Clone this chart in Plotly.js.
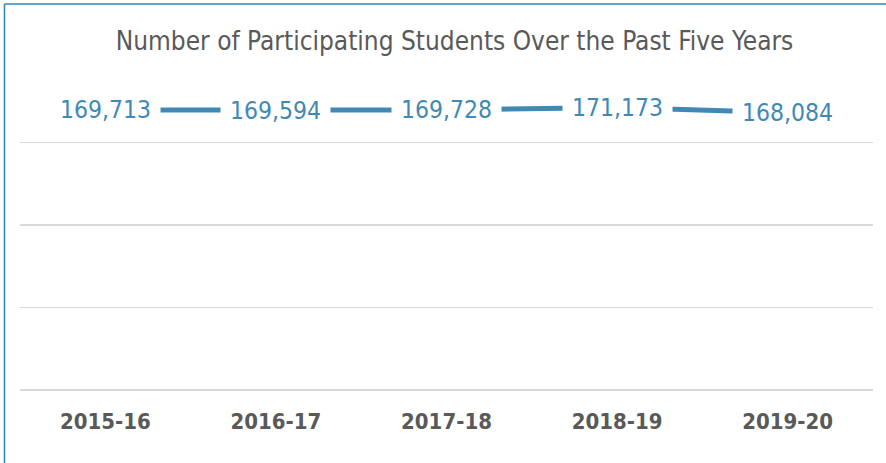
<!DOCTYPE html>
<html>
<head>
<meta charset="utf-8">
<script src="https://cdn.plot.ly/plotly-3.0.1.min.js"></script>
<style>
html,body{margin:0;padding:0;background:#fff;}
#chart{width:886px;height:463px;}
</style>
</head>
<body>
<div id="chart"></div>
<script>
const years = ["2015-16", "2016-17", "2017-18", "2018-19", "2019-20"];
const students = [169713, 169594, 169728, 171173, 168084];
const labels = ["169,713", "169,594", "169,728", "171,173", "168,084"];
const gridTicks = [0, 50000, 100000, 150000];

const FONT = "'DejaVu Sans Condensed', 'Liberation Sans Narrow', sans-serif";
const lineColor = "#3f89b4";

const trace = {
  x: years,
  y: students,
  type: "scatter",
  mode: "lines",
  line: {color: lineColor, width: 5},
  hoverinfo: "skip"
};

const annotations = years.map((yr, i) => ({
  x: yr,
  y: students[i],
  xref: "x",
  yref: "y",
  text: labels[i],
  showarrow: false,
  bgcolor: "#ffffff",
  borderpad: 9,
  font: {family: FONT, size: 24.5, color: lineColor},
  xanchor: "center",
  yanchor: "middle"
}));

const layout = {
  width: 886,
  height: 463,
  paper_bgcolor: "#ffffff",
  plot_bgcolor: "#ffffff",
  margin: {l: 20, r: 13, t: 60, b: 73},
  showlegend: false,
  title: {
    text: "Number of Participating Students Over the Past Five Years",
    font: {family: FONT, size: 26, color: "#595959"},
    x: 0.513,
    xanchor: "center",
    y: 0.912,
    yanchor: "middle"
  },
  xaxis: {
    type: "category",
    range: [-0.5, 4.5],
    showgrid: false,
    zeroline: false,
    showline: false,
    ticks: "",
    tickfont: {family: FONT, size: 22, color: "#595959", weight: "bold"},
    ticklabelstandoff: 16,
    fixedrange: true
  },
  yaxis: {
    range: [0, 200000],
    tickvals: gridTicks,
    showticklabels: false,
    showgrid: true,
    gridcolor: "#d9d9d9",
    gridwidth: 1.5,
    zeroline: true,
    zerolinecolor: "#d9d9d9",
    zerolinewidth: 1.5,
    showline: false,
    fixedrange: true
  },
  annotations: annotations,
  shapes: [
    {type: "line", xref: "paper", yref: "paper", x0: -0.0182, x1: 1.02, y0: 1.1697, y1: 1.1697, line: {color: "#2e84bd", width: 1.5}},
    {type: "line", xref: "paper", yref: "paper", x0: -0.0182, x1: -0.0182, y0: 1.1697, y1: -0.3, line: {color: "#2e84bd", width: 1.5}}
  ]
};

Plotly.newPlot("chart", [trace], layout, {displayModeBar: false, staticPlot: true});
</script>
</body>
</html>
